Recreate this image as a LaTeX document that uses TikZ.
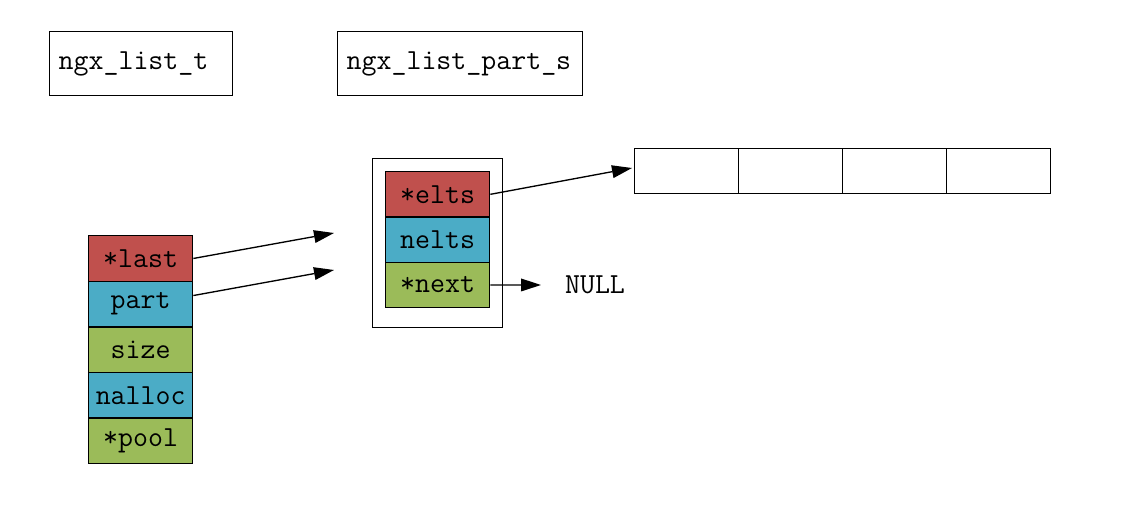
\documentclass[tikz,border=0pt]{standalone}
\usepackage{fontspec}
\usetikzlibrary{arrows.meta}
\definecolor{cred}{HTML}{C0504D}
\definecolor{cblue}{HTML}{4BACC6}
\definecolor{cgreen}{HTML}{9BBB59}
\begin{document}
\begin{tikzpicture}[x=0.75pt,y=-0.75pt,
  every node/.style={font=\ttfamily\fontsize{21.8}{26}\selectfont},
  titlebox/.style={draw, line width=1pt, anchor=north west, inner xsep=6.75pt, minimum height=48pt, align=left},
  cell/.style={draw, line width=1pt, anchor=north west, minimum width=78pt, minimum height=34.2pt, inner sep=0pt},
  pcell/.style={cell, minimum height=34pt},
  acell/.style={cell, minimum height=33.75pt},
  arr/.style={line width=1pt, -{Triangle[length=15pt,width=9.5pt]}}]
\useasboundingbox (0,0) rectangle (1124,513);
% titles
\node[titlebox, text width=123.75pt] (tlist) at (49,31) {ngx\_list\_t};
\node[titlebox, text width=170.25pt] (tpart) at (337,31) {ngx\_list\_part\_s};
% ngx_list_t fields
\node[cell, fill=cred]   (last)   at (88,235)   {*last};
\node[cell, fill=cblue]  (part)   at (88,280.6) {part};
\node[cell, fill=cgreen] (size)   at (88,326.2) {size};
\node[cell, fill=cblue]  (nalloc) at (88,371.8) {nalloc};
\node[cell, fill=cgreen] (pool)   at (88,417.4) {*pool};
% part
\node[draw, line width=1pt, anchor=north west, minimum width=97.5pt, minimum height=126.75pt, inner sep=0pt] (outer) at (372,158) {};
\node[pcell, fill=cred]   (elts)  at (385,171)   {*elts};
\node[pcell, fill=cblue]  (nelts) at (385,216.3) {nelts};
\node[pcell, fill=cgreen] (next)  at (385,261.6) {*next};
% array
\node[acell] (a1) at (634,148) {};
\node[acell] (a2) at (738,148) {};
\node[acell] (a3) at (842,148) {};
\node[acell] (a4) at (946,148) {};
% NULL
\node (null) at (595,285) {NULL};
% free ends
\coordinate (e1) at (334,233);
\coordinate (e2) at (334,270);
\coordinate (e3) at (541,285);
\coordinate (e4) at (632,168);
% arrows
\draw[arr] (last.east) -- (e1);
\draw[arr] ([yshift=6.4pt]part.east) -- (e2);
\draw[arr] (elts.east) -- (e4);
\draw[arr] (next.east) -- (e3);
\end{tikzpicture}
\end{document}
